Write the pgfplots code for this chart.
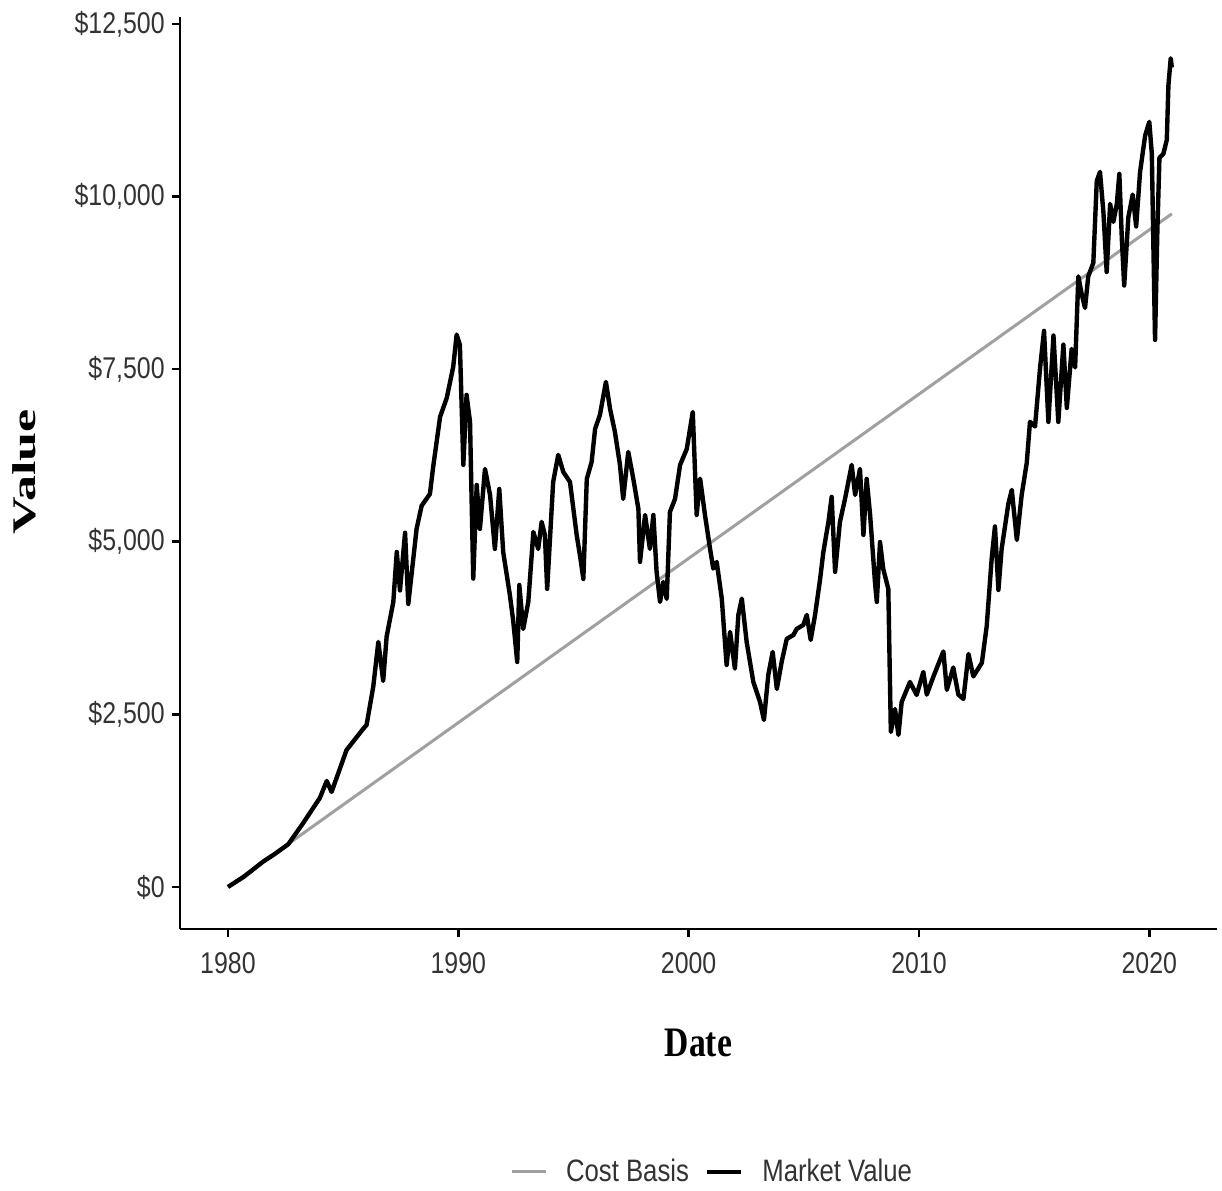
\documentclass[border=0pt]{standalone}
\usepackage{fontspec}
\usepackage{pgfplots}
\pgfplotsset{compat=1.18}
\newfontfamily\tickfont[FakeStretch=0.83]{Liberation Sans}
\newfontfamily\titlefont[FakeStretch=0.8]{Liberation Serif}
\newfontfamily\valuefont[FakeStretch=1.58]{Liberation Serif}
\definecolor{costgray}{RGB}{160,160,160}

\pgfplotstableread{
year value
1980.00 0
1980.70 150
1981.53 368
1982.00 470
1982.62 619
1983.27 927
1983.99 1289
1984.29 1535
1984.50 1376
1985.15 1984
1985.87 2289
1986.02 2347
1986.31 2903
1986.53 3549
1986.74 2984
1986.89 3627
1987.18 4128
1987.33 4852
1987.47 4295
1987.69 5131
1987.83 4099
1988.19 5186
1988.41 5522
1988.77 5693
1988.91 6084
1989.21 6808
1989.50 7083
1989.78 7532
1989.93 8000
1990.07 7851
1990.22 6113
1990.36 7127
1990.51 6736
1990.65 4466
1990.80 5823
1990.94 5186
1991.16 6055
1991.38 5678
1991.59 4896
1991.78 5765
1991.95 4852
1992.24 4230
1992.39 3839
1992.56 3259
1992.65 4374
1992.82 3737
1993.04 4128
1993.26 5142
1993.47 4896
1993.62 5287
1993.76 5099
1993.86 4317
1994.12 5866
1994.34 6258
1994.56 6011
1994.85 5866
1995.14 5099
1995.28 4809
1995.43 4461
1995.58 5910
1995.79 6156
1995.94 6634
1996.15 6837
1996.41 7315
1996.59 6924
1996.80 6591
1997.02 6113
1997.16 5620
1997.38 6301
1997.60 5910
1997.82 5475
1997.89 4708
1998.11 5388
1998.32 4896
1998.47 5388
1998.61 4563
1998.76 4128
1998.90 4418
1999.05 4172
1999.19 5432
1999.41 5620
1999.63 6113
1999.92 6344
2000.18 6880
2000.35 5388
2000.50 5914
2000.71 5388
2000.93 4900
2001.07 4611
2001.22 4708
2001.44 4176
2001.65 3216
2001.80 3694
2002.01 3162
2002.16 3940
2002.31 4176
2002.52 3549
2002.81 2969
2003.10 2680
2003.27 2419
2003.46 3071
2003.65 3404
2003.83 2868
2004.04 3259
2004.26 3592
2004.55 3650
2004.69 3737
2004.98 3795
2005.13 3940
2005.30 3578
2005.49 3940
2005.71 4461
2005.85 4852
2006.07 5287
2006.21 5649
2006.36 4563
2006.57 5287
2006.79 5620
2007.08 6113
2007.23 5678
2007.44 6055
2007.59 5099
2007.73 5910
2007.88 5388
2008.09 4418
2008.17 4128
2008.31 4997
2008.45 4606
2008.67 4317
2008.78 2245
2008.96 2578
2009.11 2202
2009.25 2680
2009.61 2969
2009.90 2781
2010.19 3114
2010.34 2786
2010.63 3049
2011.06 3411
2011.21 2854
2011.49 3179
2011.71 2786
2011.93 2723
2012.15 3375
2012.36 3049
2012.73 3245
2012.94 3773
2013.16 4766
2013.30 5222
2013.45 4302
2013.59 4896
2013.88 5548
2014.03 5751
2014.25 5026
2014.46 5678
2014.68 6142
2014.82 6736
2015.04 6670
2015.26 7525
2015.43 8054
2015.62 6736
2015.84 7987
2016.05 6736
2016.27 7855
2016.42 6938
2016.63 7793
2016.78 7525
2016.92 8843
2017.07 8580
2017.21 8387
2017.35 8843
2017.57 9039
2017.72 10226
2017.86 10357
2018.01 9763
2018.15 8908
2018.30 9893
2018.44 9633
2018.59 9893
2018.70 10328
2018.81 9372
2018.91 8711
2019.09 9698
2019.28 10028
2019.43 9567
2019.60 10357
2019.82 10884
2020.00 11081
2020.11 10618
2020.18 9241
2020.25 7923
2020.35 9502
2020.44 10560
2020.61 10618
2020.76 10820
2020.83 11608
2020.93 12002
2020.98 11870
}\marketdata

\pgfplotstableread{
year value
1980.00 0
2020.98 9750
}\costdata

\begin{document}
\begin{tikzpicture}
\begin{axis}[
  scale only axis,
  width=518.5pt, height=456pt,
  xmin=1977.92, xmax=2022.94,
  ymin=-608, ymax=12601,
  axis x line*=bottom, axis y line*=left,
  axis line style={line width=1.3pt, black, -},
  tick style={line width=1.3pt, black},
  tick align=outside,
  major tick length=4pt,
  xtick={1980,1990,2000,2010,2020},
  xticklabels={1980,1990,2000,2010,2020},
  ytick={0,2500,5000,7500,10000,12500},
  yticklabels={{\$0},{\$2,500},{\$5,000},{\$7,500},{\$10,000},{\$12,500}},
  ticklabel style={font=\fontsize{15}{18}\selectfont\tickfont, text=black!80, inner sep=0pt},
  xticklabel style={yshift=-7.5pt},
  yticklabel style={xshift=-3.5pt},
  legend style={at={(rel axis cs:0.514,-0.2664)}, anchor=center, draw=none, fill=none,
    legend columns=-1, font=\fontsize{15.5}{18}\selectfont\tickfont, text=black!80,
    /tikz/every odd column/.append style={column sep=7.5pt},
    /tikz/every even column/.append style={column sep=6pt}},
  legend image code/.code={\draw[#1] (0pt,0pt) -- (17pt,0pt);},
  clip=false,
]
\addplot[costgray, line width=1.5pt] table[x=year, y=value] {\costdata};
\addlegendentry{Cost Basis}
\addplot[black, line width=2.2pt, line join=round] table[x=year, y=value] {\marketdata};
\addlegendentry{Market Value}
\node[anchor=base, font=\fontsize{21}{24}\selectfont\titlefont\bfseries] at (rel axis cs:0.5,-0.1404) {Date};
\node[anchor=base, rotate=90, font=\fontsize{16.5}{20}\selectfont\valuefont\bfseries] at (rel axis cs:-0.1398,0.501) {Value};
\coordinate (bbll) at (rel axis cs:-0.1736,-0.2873);
\coordinate (bbur) at (rel axis cs:1.0048,1.0186);
\end{axis}
\pgfresetboundingbox
\path[use as bounding box] (bbll) rectangle (bbur);
\end{tikzpicture}
\end{document}
